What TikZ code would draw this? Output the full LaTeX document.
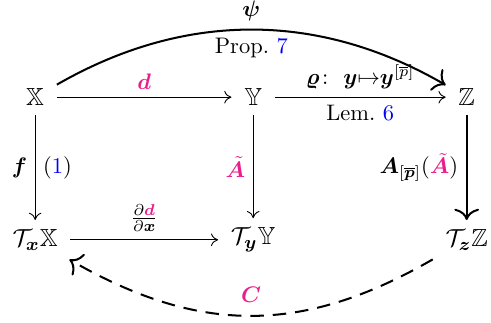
\documentclass[tikz,border=0pt]{standalone}
\usepackage{amsmath}
\usepackage{amssymb}
\usepackage{bm}
\usepackage{xcolor}
\usetikzlibrary{arrows.meta, positioning}
\definecolor{qpink}{RGB}{233, 30, 140}
\definecolor{qref}{RGB}{0, 0, 255}

\begin{document}
\begin{tikzpicture}[
    obj/.style={font=\fontsize{11}{13}\selectfont, inner xsep=5.5pt, inner ysep=4pt},
    map/.style={-{To[length=3.2pt, width=5.6pt]}, line width=0.4pt},
    bigmap/.style={-{To[length=5pt, width=11pt]}, line width=0.9pt},
]
    \useasboundingbox (0,0) rectangle (7.68,-5.04);

    % Top row
    \node[obj] (X) at (0.55,-1.52) {$\mathbb{X}$};
    \node[obj] (Y) at (3.96,-1.52) {$\mathbb{Y}$};
    \node[obj] (Z) at (7.30,-1.52) {$\mathbb{Z}$};

    % Tangent row
    \node[obj] (TX) at (0.55,-3.75) {$\mathcal{T}_{\bm{x}}\mathbb{X}$};
    \node[obj] (TY) at (3.96,-3.75) {$\mathcal{T}_{\bm{y}}\mathbb{Y}$};
    \node[obj] (TZ) at (7.30,-3.75) {$\mathcal{T}_{\bm{z}}\mathbb{Z}$};

    % Horizontal maps
    \draw[map] (X) -- node[above] {$\textcolor{qpink}{\bm{d}}$} (Y);
    \draw[map] (Y) -- node[above] {$\bm{\varrho}\colon\ \bm{y}{\mapsto}\bm{y}^{[\overline{p}]}$}
        node[below] {Lem.~\textcolor{qref}{6}} (Z);
    \draw[map] (TX) -- node[above] {$\frac{\partial\textcolor{qpink}{\bm{d}}}{\partial\bm{x}}$} (TY);

    % Vertical maps
    \draw[map] (X) -- node[left] {$\bm{f}$} node[right] {$(\textcolor{qref}{1})$} (TX);
    \draw[map] (Y) -- node[left] {$\textcolor{qpink}{\tilde{\bm{A}}}$} (TY);
    \draw[bigmap] (Z) -- node[left] {$\bm{A}_{[\overline{\bm{p}}]}(\textcolor{qpink}{\tilde{\bm{A}}})$} (TZ);

    % Curved maps
    \draw[bigmap] (X) to[bend left=30, looseness=0.97]
        node[above] {$\bm{\psi}$} node[below] {Prop.~\textcolor{qref}{7}} (Z);
    \draw[bigmap, dash pattern=on 6pt off 4pt] (TZ) to[bend left=30, looseness=1.06]
        node[above=2pt] {$\textcolor{qpink}{\bm{C}}$} (TX);
\end{tikzpicture}
\end{document}
